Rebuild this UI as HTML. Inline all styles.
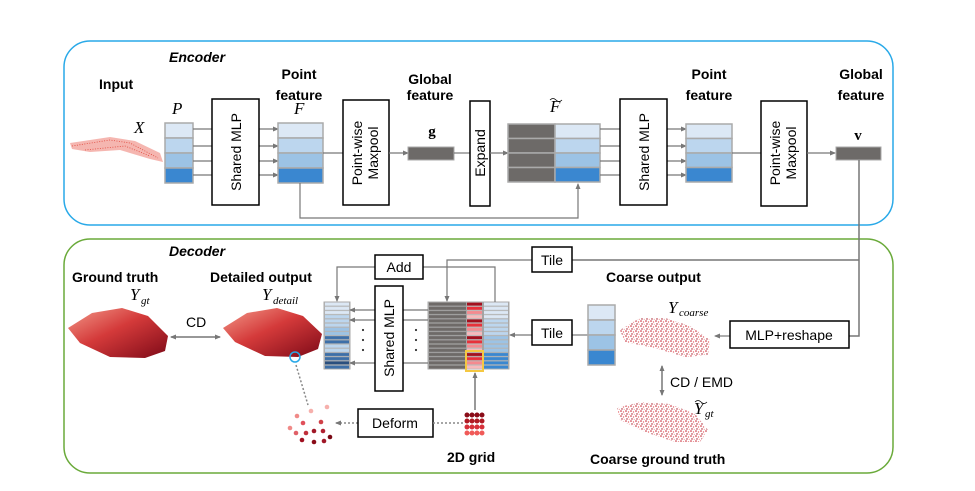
<!DOCTYPE html>
<html><head><meta charset="utf-8"><style>
body{margin:0;background:#fff}
svg{display:block}
text{font-family:"Liberation Sans",sans-serif;fill:#000}
.b{font-weight:bold;font-size:14px}
.m{font-family:"Liberation Serif",serif;font-style:italic;font-size:17px}
.l{font-size:14px}
</style></head><body>
<svg width="975" height="491" viewBox="0 0 975 491" xmlns="http://www.w3.org/2000/svg">
<defs>
<marker id="ar" markerWidth="6" markerHeight="6" refX="5" refY="3" orient="auto" markerUnits="userSpaceOnUse"><path d="M0,0.5 L6,3 L0,5.5z" fill="#777"/></marker>
<marker id="as" markerWidth="6" markerHeight="6" refX="1" refY="3" orient="auto" markerUnits="userSpaceOnUse"><path d="M6,0.5 L0,3 L6,5.5z" fill="#777"/></marker>
<linearGradient id="car" x1="0" y1="0" x2="1" y2="1"><stop offset="0" stop-color="#f39a8a"/><stop offset="0.45" stop-color="#d43a3a"/><stop offset="1" stop-color="#7e0a18"/></linearGradient>
<pattern id="pg" width="10" height="4.2" patternUnits="userSpaceOnUse" y="302"><rect width="10" height="4.2" fill="#a4a4a4"/><rect y="0.6" width="10" height="3" fill="#6e6a68"/></pattern>
<pattern id="pr" width="10" height="16.8" patternUnits="userSpaceOnUse" y="302"><rect width="10" height="16.8" fill="#bbb"/><rect y="0.6" width="10" height="3" fill="#a3101e"/><rect y="4.8" width="10" height="3" fill="#e8303a"/><rect y="9" width="10" height="3" fill="#f58a8f"/><rect y="13.2" width="10" height="3" fill="#f8b9bb"/></pattern>
<pattern id="b1" width="10" height="4.2" patternUnits="userSpaceOnUse" y="302"><rect width="10" height="4.2" fill="#b5b5b5"/><rect y="0.6" width="10" height="3" fill="#dce8f5"/></pattern>
<pattern id="b2" width="10" height="4.2" patternUnits="userSpaceOnUse" y="302"><rect width="10" height="4.2" fill="#b5b5b5"/><rect y="0.6" width="10" height="3" fill="#bcd6ee"/></pattern>
<pattern id="b3" width="10" height="4.2" patternUnits="userSpaceOnUse" y="302"><rect width="10" height="4.2" fill="#b5b5b5"/><rect y="0.6" width="10" height="3" fill="#9cc3e5"/></pattern>
<pattern id="b4" width="10" height="4.2" patternUnits="userSpaceOnUse" y="302"><rect width="10" height="4.2" fill="#b5b5b5"/><rect y="0.6" width="10" height="3" fill="#3a87d0"/></pattern>
<pattern id="d1" width="10" height="4.2" patternUnits="userSpaceOnUse" y="302"><rect width="10" height="4.2" fill="#b5b5b5"/><rect y="0.6" width="10" height="3" fill="#3d6fa8"/></pattern>
<pattern id="d2" width="10" height="4.2" patternUnits="userSpaceOnUse" y="302"><rect width="10" height="4.2" fill="#b5b5b5"/><rect y="0.6" width="10" height="3" fill="#2a4f7e"/></pattern>
<pattern id="sp" width="5" height="5" patternUnits="userSpaceOnUse"><circle cx="1" cy="1" r="0.8" fill="#c2202c"/><circle cx="3.5" cy="2" r="0.7" fill="#e66a70"/><circle cx="2" cy="4" r="0.7" fill="#a5101e"/><circle cx="4.3" cy="4.3" r="0.6" fill="#f09a9a"/></pattern>
</defs>

<rect x="64" y="41" width="829" height="184" rx="26" fill="none" stroke="#29a9e8" stroke-width="1.5"/>
<rect x="64" y="239" width="829" height="234" rx="26" fill="none" stroke="#6aaa3a" stroke-width="1.5"/>

<text x="169" y="62" class="b" font-style="italic">Encoder</text>
<text x="99" y="89" class="b">Input</text>
<path d="M70,143 L110,137 L135,141 L160,153 L163,162 L150,159 L120,150 L90,152 L72,149z" fill="#ec7a70" opacity="0.55"/>
<path d="M72,146 L110,140 L130,143 L158,158 M85,150 L125,146 L150,156" stroke="#e0483e" stroke-width="0.8" fill="none" stroke-dasharray="1,1.5"/>
<text x="134" y="133" class="m">X</text>
<text x="172" y="114" class="m">P</text>

<g stroke="#aaa" stroke-width="1.5">
<rect x="165" y="123" width="28" height="15" fill="#dce8f5"/><rect x="165" y="138" width="28" height="15" fill="#bcd6ee"/><rect x="165" y="153" width="28" height="15" fill="#9cc3e5"/><rect x="165" y="168" width="28" height="15" fill="#3a87d0"/>
</g>
<g stroke="#777" stroke-width="1.2">
<line x1="193" y1="129" x2="212" y2="129"/><line x1="193" y1="146" x2="212" y2="146"/><line x1="193" y1="161" x2="212" y2="161"/><line x1="193" y1="175" x2="212" y2="175"/>
<line x1="259" y1="129" x2="278" y2="129" marker-end="url(#ar)"/><line x1="259" y1="146" x2="278" y2="146" marker-end="url(#ar)"/><line x1="259" y1="161" x2="278" y2="161" marker-end="url(#ar)"/><line x1="259" y1="175" x2="278" y2="175" marker-end="url(#ar)"/>
</g>
<rect x="212" y="99" width="47" height="106" fill="#fff" stroke="#000" stroke-width="1.5"/>
<text transform="translate(241,152) rotate(-90)" text-anchor="middle" class="l">Shared MLP</text>

<text x="299" y="79" class="b" text-anchor="middle">Point</text>
<text x="299" y="100" class="b" text-anchor="middle">feature</text>
<text x="294" y="114" class="m">F</text>
<g stroke="#aaa" stroke-width="1.5">
<rect x="278" y="123" width="45" height="15" fill="#dce8f5"/><rect x="278" y="138" width="45" height="15" fill="#bcd6ee"/><rect x="278" y="153" width="45" height="15" fill="#9cc3e5"/><rect x="278" y="168" width="45" height="15" fill="#3a87d0"/>
</g>
<line x1="323" y1="153" x2="343" y2="153" stroke="#777" stroke-width="1.2"/>
<rect x="343" y="100" width="46" height="105" fill="#fff" stroke="#000" stroke-width="1.5"/>
<text transform="translate(362,153) rotate(-90)" text-anchor="middle" class="l">Point-wise</text>
<text transform="translate(378,153) rotate(-90)" text-anchor="middle" class="l">Maxpool</text>
<line x1="389" y1="153" x2="408" y2="153" stroke="#777" stroke-width="1.2" marker-end="url(#ar)"/>
<text x="430" y="84" class="b" text-anchor="middle">Global</text>
<text x="430" y="100" class="b" text-anchor="middle">feature</text>
<text x="432" y="136" text-anchor="middle" style="font-family:'Liberation Serif',serif;font-weight:bold;font-size:15px">g</text>
<rect x="408" y="147" width="46" height="13" fill="#6d6a68" stroke="#aaa"/>
<line x1="454" y1="153" x2="470" y2="153" stroke="#777" stroke-width="1.2"/>
<rect x="470" y="101" width="20" height="105" fill="#fff" stroke="#000" stroke-width="1.5"/>
<text transform="translate(485,153) rotate(-90)" text-anchor="middle" class="l">Expand</text>
<line x1="490" y1="153" x2="508" y2="153" stroke="#777" stroke-width="1.2" marker-end="url(#ar)"/>

<text x="550" y="112" class="m">F</text><path d="M550,100 q3,-3 6,0 t6,0" stroke="#000" fill="none" stroke-width="0.8"/>
<g stroke="#aaa" stroke-width="1.5">
<rect x="508" y="124" width="47" height="14.5" fill="#6d6a68"/><rect x="508" y="138.5" width="47" height="14.5" fill="#6d6a68"/><rect x="508" y="153" width="47" height="14.5" fill="#6d6a68"/><rect x="508" y="167.5" width="47" height="14.5" fill="#6d6a68"/>
<rect x="555" y="124" width="45" height="14.5" fill="#dce8f5"/><rect x="555" y="138.5" width="45" height="14.5" fill="#bcd6ee"/><rect x="555" y="153" width="45" height="14.5" fill="#9cc3e5"/><rect x="555" y="167.5" width="45" height="14.5" fill="#3a87d0"/>
</g>
<polyline points="300,183 300,218 578,218 578,184" fill="none" stroke="#777" stroke-width="1.2" marker-end="url(#ar)"/>
<g stroke="#777" stroke-width="1.2">
<line x1="600" y1="129" x2="620" y2="129"/><line x1="600" y1="146" x2="620" y2="146"/><line x1="600" y1="161" x2="620" y2="161"/><line x1="600" y1="175" x2="620" y2="175"/>
<line x1="667" y1="129" x2="686" y2="129" marker-end="url(#ar)"/><line x1="667" y1="146" x2="686" y2="146" marker-end="url(#ar)"/><line x1="667" y1="161" x2="686" y2="161" marker-end="url(#ar)"/><line x1="667" y1="175" x2="686" y2="175" marker-end="url(#ar)"/>
</g>
<rect x="620" y="99" width="47" height="106" fill="#fff" stroke="#000" stroke-width="1.5"/>
<text transform="translate(649,152) rotate(-90)" text-anchor="middle" class="l">Shared MLP</text>
<text x="709" y="79" class="b" text-anchor="middle">Point</text>
<text x="709" y="100" class="b" text-anchor="middle">feature</text>
<g stroke="#aaa" stroke-width="1.5">
<rect x="686" y="124" width="46" height="14.5" fill="#dce8f5"/><rect x="686" y="138.5" width="46" height="14.5" fill="#bcd6ee"/><rect x="686" y="153" width="46" height="14.5" fill="#9cc3e5"/><rect x="686" y="167.5" width="46" height="14.5" fill="#3a87d0"/>
</g>
<line x1="732" y1="153" x2="761" y2="153" stroke="#777" stroke-width="1.2"/>
<rect x="761" y="101" width="46" height="105" fill="#fff" stroke="#000" stroke-width="1.5"/>
<text transform="translate(780,153) rotate(-90)" text-anchor="middle" class="l">Point-wise</text>
<text transform="translate(796,153) rotate(-90)" text-anchor="middle" class="l">Maxpool</text>
<line x1="807" y1="153" x2="835" y2="153" stroke="#777" stroke-width="1.2" marker-end="url(#ar)"/>
<text x="861" y="79" class="b" text-anchor="middle">Global</text>
<text x="861" y="100" class="b" text-anchor="middle">feature</text>
<text x="858" y="140" text-anchor="middle" style="font-family:'Liberation Serif',serif;font-weight:bold;font-size:15px">v</text>
<rect x="836" y="147" width="45" height="13" fill="#6d6a68" stroke="#aaa"/>
<polyline points="859,160 859,336 849,336" fill="none" stroke="#777" stroke-width="1.5"/>
<line x1="859" y1="260" x2="572" y2="260" stroke="#777" stroke-width="1.5"/>

<text x="169" y="256" class="b" font-style="italic">Decoder</text>
<text x="72" y="282" class="b">Ground truth</text>
<text x="130" y="300" class="m">Y</text><text x="141" y="304" class="m" style="font-size:11px">gt</text>
<path d="M68,328 L92,313 L122,308 L148,316 L168,336 L165,351 L145,358 L110,357 L80,343z" fill="url(#car)"/>
<line x1="171" y1="337" x2="220" y2="337" stroke="#777" stroke-width="1.5" marker-start="url(#as)" marker-end="url(#ar)"/>
<text x="186" y="327" class="l">CD</text>
<text x="210" y="282" class="b">Detailed output</text>
<text x="262" y="300" class="m">Y</text><text x="273" y="304" class="m" style="font-size:11px">detail</text>
<path d="M223,328 L247,313 L277,308 L303,316 L322,334 L318,349 L298,357 L265,356 L235,342z" fill="url(#car)"/>
<circle cx="295" cy="357" r="5" fill="none" stroke="#29a9e8" stroke-width="1.5"/>
<line x1="296" y1="365" x2="308" y2="405" stroke="#888" stroke-width="1.5" stroke-dasharray="2,2"/>
<g>
<circle cx="311" cy="411" r="2.3" fill="#f6b0ac"/><circle cx="327" cy="407" r="2.3" fill="#f6b0ac"/><circle cx="297" cy="416" r="2.3" fill="#f08a88"/><circle cx="321" cy="422" r="2.3" fill="#d04048"/><circle cx="290" cy="428" r="2.3" fill="#f08a88"/><circle cx="303" cy="423" r="2.3" fill="#e0505a"/><circle cx="296" cy="433" r="2.3" fill="#e06068"/><circle cx="306" cy="433" r="2.3" fill="#c0303a"/><circle cx="314" cy="431" r="2.3" fill="#a01828"/><circle cx="323" cy="431" r="2.3" fill="#b02030"/><circle cx="302" cy="440" r="2.3" fill="#a01020"/><circle cx="314" cy="442" r="2.3" fill="#8a0c18"/><circle cx="324" cy="441" r="2.3" fill="#a01828"/><circle cx="330" cy="437" r="2.3" fill="#7a0814"/>
</g>
<line x1="358" y1="423" x2="336" y2="423" stroke="#888" stroke-width="1.5" stroke-dasharray="2,2" marker-end="url(#ar)"/>
<rect x="358" y="409" width="75" height="28" fill="#fff" stroke="#000" stroke-width="1.5"/>
<text x="395" y="428" class="l" text-anchor="middle">Deform</text>
<line x1="463" y1="423" x2="433" y2="423" stroke="#888" stroke-width="1.5" stroke-dasharray="2,2"/>
<g>
<g fill="#8a0c18"><circle cx="467" cy="415" r="2.5"/><circle cx="472" cy="415" r="2.5"/><circle cx="477" cy="415" r="2.5"/><circle cx="482" cy="415" r="2.5"/></g>
<g fill="#b01a24"><circle cx="467" cy="421" r="2.5"/><circle cx="472" cy="421" r="2.5"/><circle cx="477" cy="421" r="2.5"/><circle cx="482" cy="421" r="2.5"/></g>
<g fill="#d6303a"><circle cx="467" cy="427" r="2.5"/><circle cx="472" cy="427" r="2.5"/><circle cx="477" cy="427" r="2.5"/><circle cx="482" cy="427" r="2.5"/></g>
<g fill="#f05a58"><circle cx="467" cy="433" r="2.5"/><circle cx="472" cy="433" r="2.5"/><circle cx="477" cy="433" r="2.5"/><circle cx="482" cy="433" r="2.5"/></g>
</g>
<text x="447" y="462" class="b">2D grid</text>
<line x1="475" y1="410" x2="475" y2="373" stroke="#777" stroke-width="1.5" marker-end="url(#ar)"/>

<rect x="324" y="302" width="26" height="67" fill="#b5b5b5" stroke="#aaa"/>
<rect x="325" y="302" width="24" height="12.6" fill="url(#b1)"/>
<rect x="325" y="314.6" width="24" height="12.6" fill="url(#b2)"/>
<rect x="325" y="327.2" width="24" height="8.4" fill="url(#b3)"/>
<rect x="325" y="335.6" width="24" height="8.4" fill="url(#d1)"/>
<rect x="325" y="344" width="24" height="8.4" fill="url(#b2)"/>
<rect x="325" y="352.4" width="24" height="16.8" fill="url(#d1)"/>
<rect x="325" y="360.8" width="24" height="4.2" fill="url(#d2)"/>

<rect x="428" y="302" width="81" height="67" fill="#a4a4a4" stroke="#aaa"/>
<rect x="429" y="302" width="37" height="67.2" fill="url(#pg)"/>
<rect x="467" y="302" width="15" height="67.2" fill="url(#pr)"/>
<rect x="484" y="302" width="24" height="16.8" fill="url(#b1)"/>
<rect x="484" y="318.8" width="24" height="16.8" fill="url(#b2)"/>
<rect x="484" y="335.6" width="24" height="16.8" fill="url(#b3)"/>
<rect x="484" y="352.4" width="24" height="16.8" fill="url(#b4)"/>
<rect x="466" y="351" width="17" height="20" fill="none" stroke="#f5c842" stroke-width="2"/>

<g stroke="#777" stroke-width="1.2">
<line x1="428" y1="310" x2="350" y2="310" marker-end="url(#ar)"/>
<line x1="428" y1="320" x2="350" y2="320" marker-end="url(#ar)"/>
<line x1="428" y1="363" x2="350" y2="363" marker-end="url(#ar)"/>
</g>
<rect x="375" y="286" width="28" height="105" fill="#fff" stroke="#000" stroke-width="1.5"/>
<text transform="translate(394,338) rotate(-90)" text-anchor="middle" class="l">Shared MLP</text>
<g fill="#333"><circle cx="363" cy="330" r="1.1"/><circle cx="363" cy="340" r="1.1"/><circle cx="363" cy="350" r="1.1"/><circle cx="416" cy="330" r="1.1"/><circle cx="416" cy="340" r="1.1"/><circle cx="416" cy="350" r="1.1"/></g>

<polyline points="375,267 337,267 337,301" fill="none" stroke="#777" stroke-width="1.2" marker-end="url(#ar)"/>
<polyline points="423,267 495,267 495,302" fill="none" stroke="#777" stroke-width="1.2"/>
<rect x="375" y="255" width="48" height="24" fill="#fff" stroke="#000" stroke-width="1.5"/>
<text x="399" y="272" class="l" text-anchor="middle">Add</text>
<polyline points="532,260 447,260 447,301" fill="none" stroke="#777" stroke-width="1.2" marker-end="url(#ar)"/>
<rect x="532" y="247" width="40" height="25" fill="#fff" stroke="#000" stroke-width="1.5"/>
<text x="552" y="265" class="l" text-anchor="middle">Tile</text>
<line x1="588" y1="335" x2="572" y2="335" stroke="#777" stroke-width="1.2"/>
<line x1="532" y1="335" x2="510" y2="335" stroke="#777" stroke-width="1.2" marker-end="url(#ar)"/>
<rect x="532" y="320" width="40" height="25" fill="#fff" stroke="#000" stroke-width="1.5"/>
<text x="552" y="338" class="l" text-anchor="middle">Tile</text>

<text x="606" y="282" class="b">Coarse output</text>
<g stroke="#aaa" stroke-width="1.5">
<rect x="588" y="305" width="27" height="15" fill="#dce8f5"/><rect x="588" y="320" width="27" height="15" fill="#bcd6ee"/><rect x="588" y="335" width="27" height="15" fill="#9cc3e5"/><rect x="588" y="350" width="27" height="15" fill="#3a87d0"/>
</g>
<text x="668" y="313" class="m">Y</text><text x="679" y="316" class="m" style="font-size:11px">coarse</text>
<path d="M620,330 L640,318 L665,318 L690,326 L710,340 L708,355 L685,357 L655,348 L625,342z" fill="url(#sp)"/>
<line x1="730" y1="336" x2="715" y2="336" stroke="#777" stroke-width="1.2" marker-end="url(#ar)"/>
<rect x="730" y="321" width="119" height="27" fill="#fff" stroke="#000" stroke-width="1.5"/>
<text x="789" y="340" class="l" text-anchor="middle">MLP+reshape</text>
<line x1="662" y1="366" x2="662" y2="395" stroke="#777" stroke-width="1.5" marker-start="url(#as)" marker-end="url(#ar)"/>
<text x="670" y="387" class="l">CD / EMD</text>
<text x="694" y="414" class="m">Y</text><path d="M695,402 q3,-3 6,0 t6,0" stroke="#000" fill="none" stroke-width="0.8"/><text x="705" y="417" class="m" style="font-size:11px">gt</text>
<path d="M617,408 L640,402 L670,404 L695,414 L708,430 L700,442 L675,442 L645,432 L620,420z" fill="url(#sp)"/>
<text x="590" y="464" class="b">Coarse ground truth</text>
</svg>
</body></html>
